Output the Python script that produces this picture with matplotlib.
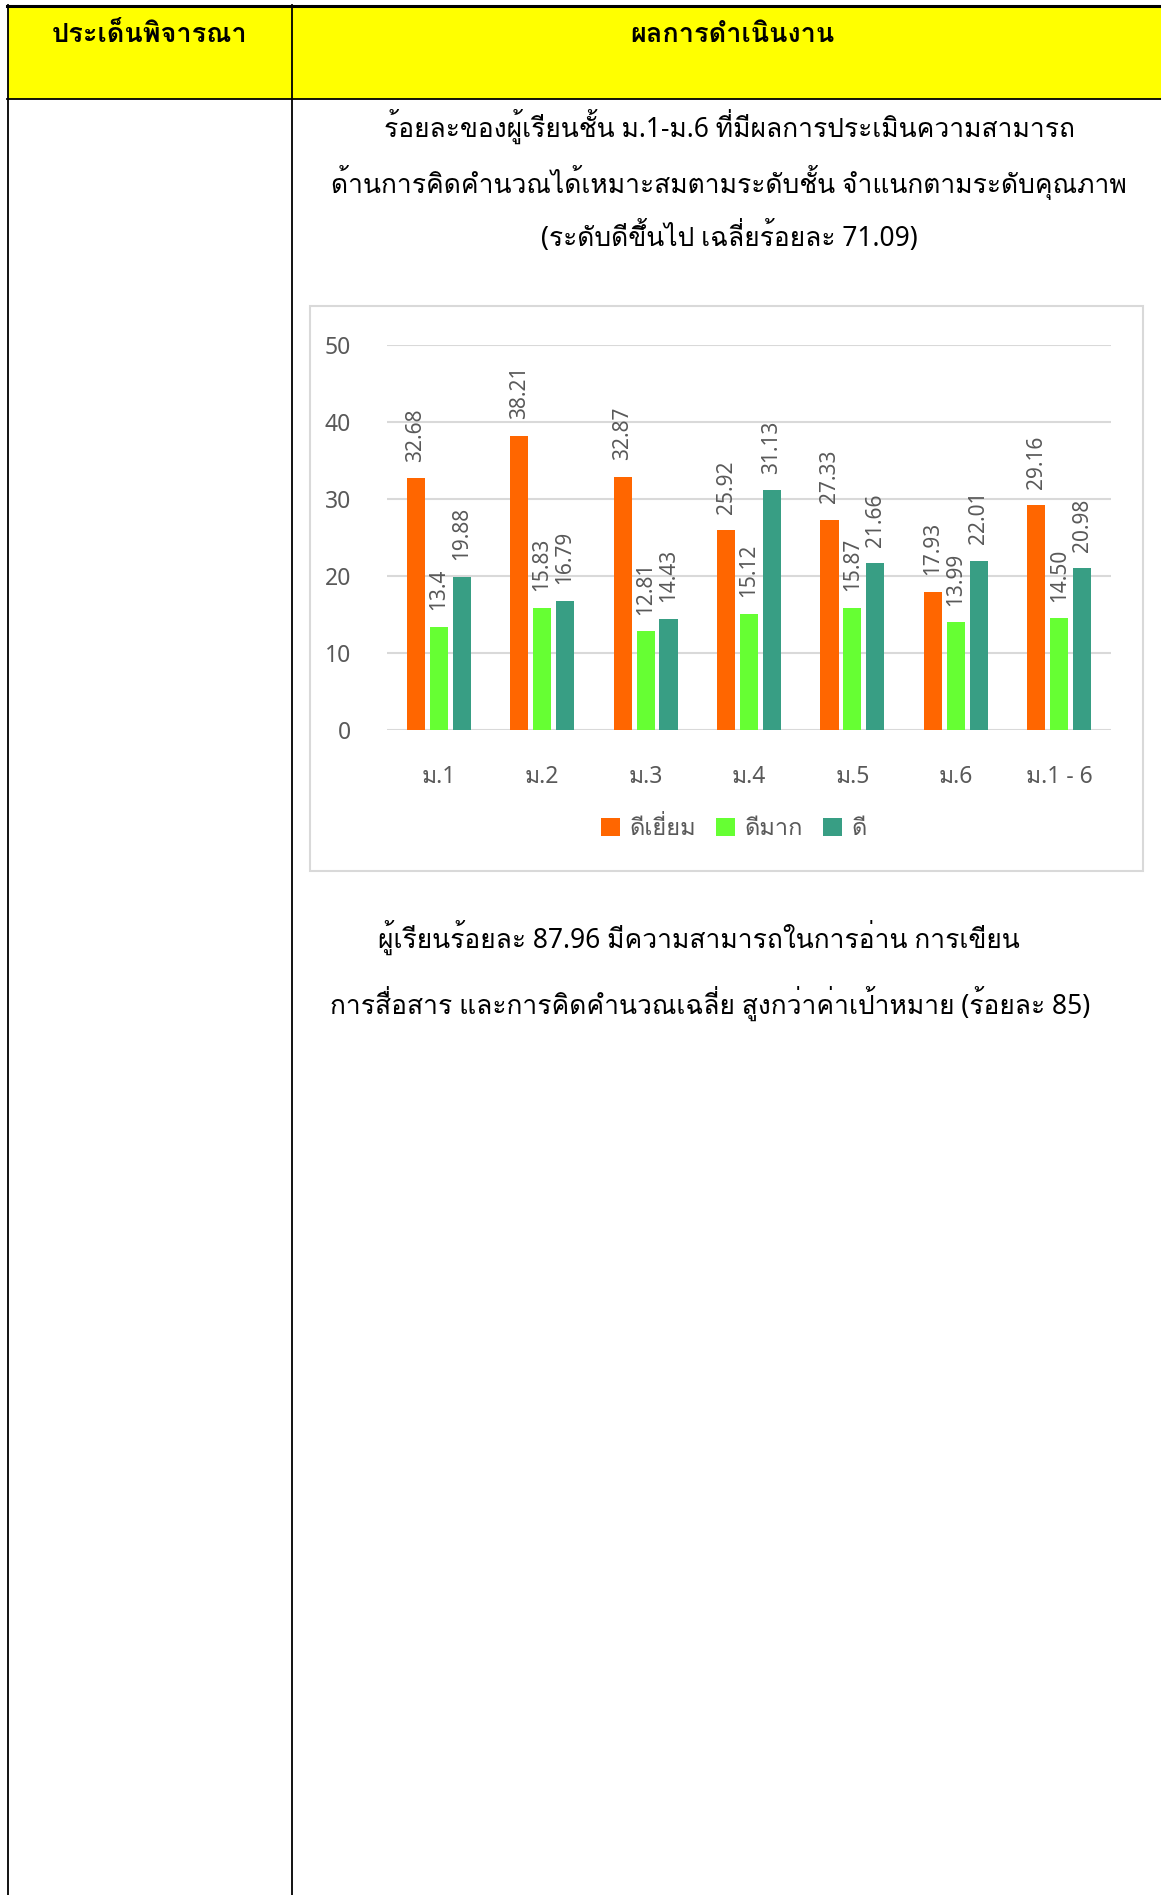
import matplotlib
matplotlib.use("Agg")
import matplotlib.pyplot as plt
from matplotlib import font_manager
from matplotlib.patches import Rectangle
from matplotlib.lines import Line2D
import numpy as np

# ---------------- data ----------------
categories = ["ม.1", "ม.2", "ม.3", "ม.4", "ม.5", "ม.6", "ม.1 - 6"]
series_names = ["ดีเยี่ยม", "ดีมาก", "ดี"]
excellent = [32.68, 38.21, 32.87, 25.92, 27.33, 17.93, 29.16]
very_good = [13.4, 15.83, 12.81, 15.12, 15.87, 13.99, 14.50]
good = [19.88, 16.79, 14.43, 31.13, 21.66, 22.01, 20.98]
excellent_labels = ["32.68", "38.21", "32.87", "25.92", "27.33", "17.93", "29.16"]
very_good_labels = ["13.4", "15.83", "12.81", "15.12", "15.87", "13.99", "14.50"]
good_labels = ["19.88", "16.79", "14.43", "31.13", "21.66", "22.01", "20.98"]
y_ticks = [0, 10, 20, 30, 40, 50]

header_left = "ประเด็นพิจารณา"
header_right = "ผลการดำเนินงาน"
title_lines = ["ร้อยละของผู้เรียนชั้น ม.1-ม.6 ที่มีผลการประเมินความสามารถ",
               "ด้านการคิดคำนวณได้เหมาะสมตามระดับชั้น จำแนกตามระดับคุณภาพ",
               "(ระดับดีขึ้นไป เฉลี่ยร้อยละ 71.09)"]
summary_lines = ["ผู้เรียนร้อยละ 87.96 มีความสามารถในการอ่าน การเขียน",
                 "การสื่อสาร และการคิดคำนวณเฉลี่ย สูงกว่าค่าเป้าหมาย (ร้อยละ 85)"]

# ---------------- fonts ----------------
installed = {f.name for f in font_manager.fontManager.ttflist}
families = [f for f in ["Noto Sans", "Loma", "Noto Sans Thai Looped"] if f in installed]
families += ["DejaVu Sans"]
plt.rcParams["font.family"] = families

W, H = 1161, 1895
fig = plt.figure(figsize=(W / 100, H / 100), dpi=100)

def fx(px):
    return px / W

def fy(py):
    return 1 - py / H

# ---------------- table ----------------
fig.add_artist(Rectangle((fx(8), fy(99)), fx(1161) - fx(8), fy(6) - fy(99),
                         transform=fig.transFigure, facecolor="#FFFF00", edgecolor="none", zorder=-5))
lk = dict(transform=fig.transFigure, color="black", zorder=-4)
fig.add_artist(Line2D([fx(7), fx(1161)], [fy(6), fy(6)], lw=2.2, **lk))
fig.add_artist(Line2D([fx(7), fx(1161)], [fy(99), fy(99)], lw=1.3, **lk))
fig.add_artist(Line2D([fx(8), fx(8)], [fy(5), fy(1895)], lw=1.3, **lk))
fig.add_artist(Line2D([fx(292), fx(292)], [fy(5), fy(1895)], lw=1.3, **lk))

fig.text(fx(150), fy(35), header_left, ha="center", va="center", fontsize=19.5, fontweight="bold")
fig.text(fx(732), fy(35), header_right, ha="center", va="center", fontsize=19.5, fontweight="bold")

for t, yy in zip(title_lines, [126, 182, 237]):
    fig.text(fx(729), fy(yy), t, ha="center", va="center", fontsize=19)

fig.text(fx(378), fy(937), summary_lines[0], ha="left", va="center", fontsize=19)
fig.text(fx(330), fy(1003), summary_lines[1], ha="left", va="center", fontsize=19)

# chart frame
fig.add_artist(Rectangle((fx(310), fy(871)), fx(1143) - fx(310), fy(306) - fy(871),
                         transform=fig.transFigure, facecolor="white", edgecolor="#D9D9D9",
                         lw=1.5, zorder=-3))

# ---------------- chart ----------------
ax = fig.add_axes([fx(387), fy(730), fx(1111) - fx(387), fy(345) - fy(730)])
ax.patch.set_alpha(0)
ax.set_xlim(-0.5, len(categories) - 0.5)
ax.set_ylim(0, 50)
x = np.arange(len(categories))
pitch = 0.222
bw = 0.175
colors = ["#FF6600", "#66FF33", "#389E84"]
all_vals = [excellent, very_good, good]
all_labels = [excellent_labels, very_good_labels, good_labels]
for k in range(3):
    xs = x + (k - 1) * pitch
    ax.bar(xs, all_vals[k], width=bw, color=colors[k], label=series_names[k], zorder=3)
    for xi, v, lab in zip(xs, all_vals[k], all_labels[k]):
        ax.annotate(lab, (xi, v), xytext=(0, 12), textcoords="offset points",
                    rotation=90, ha="center", va="bottom", fontsize=15,
                    color="#595959", zorder=4)

ax.set_yticks(y_ticks)
ax.set_xticks(x)
ax.set_xticklabels(categories)
for s in ax.spines.values():
    s.set_visible(False)
ax.grid(axis="y", color="#D9D9D9", lw=1.5, zorder=0)
ax.tick_params(axis="both", length=0, colors="#595959", labelsize=16.5)
ax.tick_params(axis="y", pad=26)
ax.tick_params(axis="x", pad=25)

leg = fig.legend(loc="center", bbox_to_anchor=(fx(734), fy(829)), ncol=3, frameon=False,
                 fontsize=17, handlelength=0.8, handleheight=0.8, handletextpad=0.4,
                 columnspacing=0.85, labelcolor="#595959")

fig.savefig("out.png", dpi=100)
